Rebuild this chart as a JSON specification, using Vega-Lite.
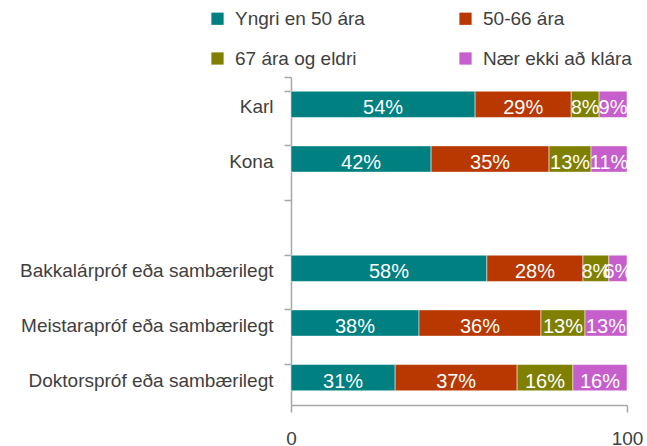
{
  "$schema": "https://vega.github.io/schema/vega-lite/v6.json",
  "autosize": "none",
  "width": 336,
  "height": 328,
  "padding": {"left": 291, "top": 77, "right": 20, "bottom": 41},
  "background": "white",
  "config": {
    "view": {"stroke": null},
    "font": "Liberation Sans"
  },
  "data": {
    "values": [
      {"cat": "Karl", "grp": "Yngri en 50 ára", "k": 1, "value": 54.8, "label": "54%"},
      {"cat": "Karl", "grp": "50-66 ára", "k": 2, "value": 28.6, "label": "29%"},
      {"cat": "Karl", "grp": "67 ára og eldri", "k": 3, "value": 8.3, "label": "8%"},
      {"cat": "Karl", "grp": "Nær ekki að klára", "k": 4, "value": 8.3, "label": "9%"},
      {"cat": "Kona", "grp": "Yngri en 50 ára", "k": 1, "value": 41.7, "label": "42%"},
      {"cat": "Kona", "grp": "50-66 ára", "k": 2, "value": 35.1, "label": "35%"},
      {"cat": "Kona", "grp": "67 ára og eldri", "k": 3, "value": 12.5, "label": "13%"},
      {"cat": "Kona", "grp": "Nær ekki að klára", "k": 4, "value": 10.7, "label": "11%"},
      {"cat": "Bakkalárpróf eða sambærilegt", "grp": "Yngri en 50 ára", "k": 1, "value": 58.3, "label": "58%"},
      {"cat": "Bakkalárpróf eða sambærilegt", "grp": "50-66 ára", "k": 2, "value": 28.6, "label": "28%"},
      {"cat": "Bakkalárpróf eða sambærilegt", "grp": "67 ára og eldri", "k": 3, "value": 7.7, "label": "8%"},
      {"cat": "Bakkalárpróf eða sambærilegt", "grp": "Nær ekki að klára", "k": 4, "value": 5.4, "label": "6%"},
      {"cat": "Meistarapróf eða sambærilegt", "grp": "Yngri en 50 ára", "k": 1, "value": 38.1, "label": "38%"},
      {"cat": "Meistarapróf eða sambærilegt", "grp": "50-66 ára", "k": 2, "value": 36.3, "label": "36%"},
      {"cat": "Meistarapróf eða sambærilegt", "grp": "67 ára og eldri", "k": 3, "value": 13.1, "label": "13%"},
      {"cat": "Meistarapróf eða sambærilegt", "grp": "Nær ekki að klára", "k": 4, "value": 12.5, "label": "13%"},
      {"cat": "Doktorspróf eða sambærilegt", "grp": "Yngri en 50 ára", "k": 1, "value": 31.0, "label": "31%"},
      {"cat": "Doktorspróf eða sambærilegt", "grp": "50-66 ára", "k": 2, "value": 36.3, "label": "37%"},
      {"cat": "Doktorspróf eða sambærilegt", "grp": "67 ára og eldri", "k": 3, "value": 16.6, "label": "16%"},
      {"cat": "Doktorspróf eða sambærilegt", "grp": "Nær ekki að klára", "k": 4, "value": 16.1, "label": "16%"}
    ]
  },
  "encoding": {
    "y": {
      "field": "cat",
      "type": "nominal",
      "sort": null,
      "scale": {
        "domain": ["Karl", "Kona", " ", "Bakkalárpróf eða sambærilegt", "Meistarapróf eða sambærilegt", "Doktorspróf eða sambærilegt"],
        "paddingInner": 0.52,
        "paddingOuter": 0.26
      },
      "axis": {
        "title": null,
        "bandPosition": 0,
        "tickExtra": true,
        "domainColor": "#a6a6a6",
        "domainWidth": 1.5,
        "tickColor": "#a6a6a6",
        "tickWidth": 1.5,
        "tickSize": 7,
        "labelPadding": 11,
        "labelOffset": 3,
        "labelFontSize": 19,
        "labelColor": "#404040",
        "labelLimit": 300
      }
    },
    "x": {
      "field": "value",
      "type": "quantitative",
      "stack": "zero",
      "scale": {"domain": [0, 100], "nice": false},
      "axis": {
        "title": null,
        "values": [0, 100],
        "grid": false,
        "domainColor": "#a6a6a6",
        "domainWidth": 1.5,
        "tickColor": "#a6a6a6",
        "tickWidth": 1.5,
        "tickSize": 7,
        "labelPadding": 17,
        "labelFontSize": 19,
        "labelColor": "#404040",
        "labelFlush": false
      }
    },
    "order": {"field": "k", "type": "quantitative"}
  },
  "layer": [
    {
      "mark": {"type": "bar", "stroke": "white", "strokeWidth": 0.7, "strokeOpacity": 0.7},
      "encoding": {
        "color": {
          "field": "grp",
          "type": "nominal",
          "scale": {
            "domain": ["Yngri en 50 ára", "50-66 ára", "67 ára og eldri", "Nær ekki að klára"],
            "range": ["#008080", "#b83800", "#808000", "#c65fcb"]
          },
          "legend": {
            "title": null,
            "orient": "none",
            "direction": "horizontal",
            "legendX": -83,
            "legendY": -68,
            "columns": 2,
            "columnPadding": 91,
            "rowPadding": 20,
            "symbolType": "square",
            "symbolSize": 150,
            "symbolStrokeWidth": 0,
            "labelFontSize": 19,
            "labelColor": "#404040",
            "labelOffset": 8,
            "labelLimit": 300
          }
        }
      }
    },
    {
      "mark": {"type": "text", "color": "white", "fontSize": 20, "baseline": "middle", "dy": 4},
      "encoding": {
        "x": {"field": "value", "type": "quantitative", "stack": "zero", "bandPosition": 0.5},
        "text": {"field": "label"}
      }
    }
  ]
}
